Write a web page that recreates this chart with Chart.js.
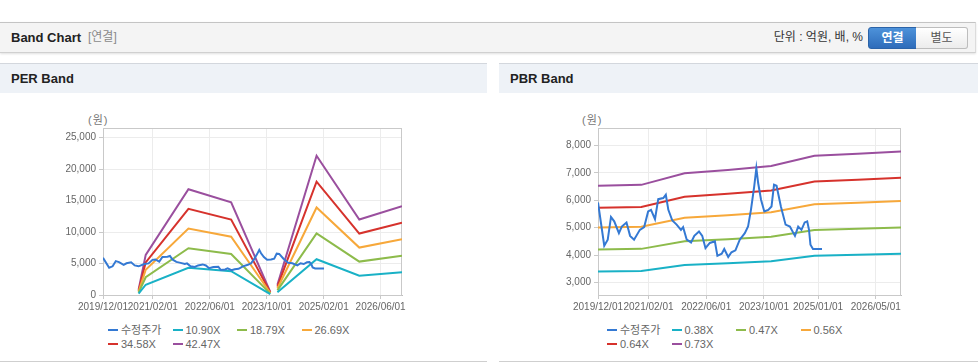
<!DOCTYPE html>
<html><head><meta charset="utf-8">
<script src="https://cdn.jsdelivr.net/npm/chart.js@4/dist/chart.umd.min.js"></script>
<style>
html,body{margin:0;padding:0;background:#fff;width:978px;height:364px;overflow:hidden;position:relative;font-family:"Liberation Sans",Arial,"Noto Sans CJK KR",sans-serif;}
.abs{position:absolute;}
#hdr{left:0;top:22px;width:975px;height:29px;background:#f4f4f4;border-top:1px solid #c4c4c4;border-bottom:1px solid #d0d0d0;border-right:1px solid #dcdcdc;box-shadow:0 1px 2px rgba(0,0,0,0.12);}
.ttl{font-weight:bold;font-size:13px;color:#222;}
.ph{top:63px;height:29px;background:#eef2f7;border-top:1px solid #d3d7dd;}
.bl{top:361px;height:1px;background:#cfcfcf;}
.unit{font-size:11px;color:#777;letter-spacing:1px;}
.lg{font-family:"Liberation Sans","Noto Sans CJK KR",sans-serif;font-size:11px;color:#666;white-space:nowrap;line-height:14px;}
.lg i{display:inline-block;width:10px;height:2px;vertical-align:middle;margin-right:3px;position:relative;top:-1px;}
</style></head>
<body>
<div id="hdr" class="abs"></div>
<div class="abs ttl" style="left:11px;top:23px;line-height:29px;">Band Chart</div>
<div class="abs" style="left:88px;top:23px;line-height:29px;font-size:12px;color:#8a8a8a;">[연결]</div>
<div class="abs" style="left:760px;width:103px;text-align:right;top:23px;line-height:29px;font-size:12px;color:#333;">단위 : 억원, 배, %</div>
<div class="abs" style="left:868px;top:27px;width:47px;height:20px;line-height:20px;text-align:center;font-size:12px;font-weight:bold;color:#fff;background:linear-gradient(#4d92da,#2e6cba);border:1px solid #2b63a8;border-radius:3px 0 0 3px;">연결</div>
<div class="abs" style="left:916px;top:27px;width:51px;height:20px;line-height:20px;text-align:center;font-size:12px;color:#555;background:linear-gradient(#ffffff,#ececec);border:1px solid #bdbdbd;border-left:none;border-radius:0 3px 3px 0;">별도</div>

<div class="abs ph" style="left:0;width:487px;"></div>
<div class="abs ph" style="left:499px;width:479px;"></div>
<div class="abs ttl" style="left:11px;top:64px;line-height:29px;">PER Band</div>
<div class="abs ttl" style="left:510px;top:64px;line-height:29px;">PBR Band</div>
<div class="abs bl" style="left:0;width:487px;"></div>
<div class="abs bl" style="left:499px;width:479px;"></div>

<div class="abs unit" style="left:88px;top:111px;">(원)</div>
<div class="abs unit" style="left:582px;top:111px;">(원)</div>

<canvas id="per" class="abs" width="390" height="220" style="left:30px;top:100px;"></canvas>
<canvas id="pbr" class="abs" width="390" height="220" style="left:525px;top:100px;"></canvas>
<div id="perLeg" class="abs" style="left:0;top:0;"></div>
<div id="pbrLeg" class="abs" style="left:0;top:0;"></div>

<script>
// ---------- data ----------
const priceDates = ['2019/12/01','2020/01/23','2020/02/22','2020/03/19','2020/04/16','2020/05/25','2020/06/19','2020/07/28','2020/08/28','2020/10/01','2020/11/19','2020/12/25','2021/01/28','2021/02/22','2021/03/25','2021/04/22','2021/06/04','2021/06/25','2021/07/16','2021/08/19','2021/09/25','2021/11/01','2021/11/19','2021/12/19','2022/01/25','2022/02/22','2022/04/01','2022/04/28','2022/05/25','2022/07/01','2022/08/13','2022/09/04','2022/10/10','2022/11/01','2022/12/04','2023/01/01','2023/02/04','2023/03/10','2023/04/22','2023/05/19','2023/06/13','2023/07/10','2023/07/28','2023/08/13','2023/09/07','2023/10/04','2023/11/07','2023/12/04','2023/12/25','2024/01/16','2024/02/22','2024/04/01','2024/05/07','2024/06/19','2024/07/16','2024/08/13','2024/09/10','2024/10/01','2024/10/16','2024/10/28','2024/11/19','2025/02/04'];
const priceValues = [5920,4340,4560,5390,5230,4800,5040,5190,4700,4560,4920,5020,5590,5650,5310,6040,6080,6200,5650,5260,5110,4920,5020,4560,4460,4700,4860,4700,4250,4440,4500,3970,4050,4220,3930,4100,4170,4560,4800,5040,5650,6500,7170,6630,6020,5590,5650,5770,6570,6530,5770,5110,5040,4700,5040,4920,5190,5230,4920,4380,4220,4220];

const perBandDates = ['2020/10/01','2020/12/01','2021/12/01','2022/12/01','2023/11/01','2023/12/01','2024/01/01','2024/12/01','2025/12/01','2026/12/01'];
const per1090 = [218,1635,4316,3782,131,null,421,5679,3079,3619];
const per1879 = [376,2819,7441,6520,225,null,725,9790,5308,6238];
const per2669 = [534,4004,10569,9261,320,null,1030,13905,7540,8861];
const per3458 = [692,5187,13694,11999,415,null,1335,18016,9769,11481];
const per4247 = [849,6371,16818,14737,510,null,1639,22127,11998,14100];
const perLabels = ['수정주가','10.90X','18.79X','26.69X','34.58X','42.47X'];

const pbrBandDates = ['2019/12/01','2020/12/01','2021/12/01','2022/12/01','2023/12/01','2024/12/01','2025/12/01','2026/12/01'];
const pbr038 = [3399,3416,3639,3701,3773,3971,4009,4051];
const pbr047 = [4204,4225,4500,4578,4667,4912,4959,5010];
const pbr056 = [5009,5034,5362,5454,5560,5852,5908,5970];
const pbr064 = [5725,5754,6128,6234,6355,6688,6752,6822];
const pbr073 = [6530,6563,6990,7110,7250,7629,7702,7782];
const pbrLabels = ['수정주가','0.38X','0.47X','0.56X','0.64X','0.73X'];

const perXTicks = ['2019/12/01','2021/02/01','2022/06/01','2023/10/01','2025/02/01','2026/06/01'];
const pbrXTicks = ['2019/12/01','2021/02/01','2022/06/01','2023/10/01','2025/01/01','2026/05/01'];
const perYTicks = [0,5000,10000,15000,20000,25000];
const pbrYTicks = [3000,4000,5000,6000,7000,8000];
const axisStart = '2019/12/01', axisEnd = '2026/12/01';

const seriesColors = ['#3479d3','#19b1c6','#8dbb4b','#f7a83a','#d6322c','#9a4f9e'];

// ---------- helpers ----------
function mi(s){const p=s.split('/').map(Number);return (p[0]-2019)*12+(p[1]-12)+(p[2]-1)/30;}
function pts(dates,vals){return dates.map((d,i)=>({x:mi(d),y:vals[i]}));}
function ds(label,dates,vals,color){return {label,data:pts(dates,vals),borderColor:color,backgroundColor:color,borderWidth:2,pointRadius:0,pointHoverRadius:0,tension:0,fill:false,spanGaps:false};}

const frame={id:'frame',beforeDatasetsDraw(c){const a=c.chartArea,x=c.ctx;x.save();x.strokeStyle='#c9c9c9';x.lineWidth=1;x.strokeRect(Math.round(a.left)+0.5,Math.round(a.top)+0.5,Math.round(a.right-a.left)-1,Math.round(a.bottom-a.top));x.restore();}};

const tickFont={family:"'Liberation Sans',Arial,sans-serif",size:10};

function makeChart(id,datasets,xTicks,yTicks,yMin,yMax,padRight){
  const xVals=xTicks.map(mi);
  return new Chart(document.getElementById(id),{
    type:'line',
    data:{datasets},
    options:{
      responsive:false,animation:false,devicePixelRatio:1,
      layout:{padding:{left:0,top:28,right:padRight,bottom:0}},
      plugins:{legend:{display:false},tooltip:{enabled:false}},
      scales:{
        x:{type:'linear',min:mi(axisStart),max:mi(axisEnd),
          afterBuildTicks(s){s.ticks=xVals.map(v=>({value:v}));},
          afterFit(s){s.height=25;},
          grid:{color:'#ececec',tickLength:4,tickColor:'#c9c9c9'},
          border:{color:'#bdbdbd'},
          ticks:{autoSkip:false,maxRotation:0,color:'#666',font:tickFont,padding:2,
            callback(v){const i=xVals.findIndex(t=>Math.abs(t-v)<1e-6);return i>=0?xTicks[i]:'';}}},
        y:{min:yMin,max:yMax,
          afterBuildTicks(s){s.ticks=yTicks.map(v=>({value:v}));},
          afterFit(s){s.width=73;},
          grid:{color:'#ececec',tickLength:4,tickColor:'#c9c9c9'},
          border:{color:'#bdbdbd'},
          ticks:{color:'#666',font:tickFont,padding:3,callback(v){return v.toLocaleString('en-US');}}}
      }
    },
    plugins:[frame]
  });
}

makeChart('per',[
  ds(perLabels[0],priceDates,priceValues,seriesColors[0]),
  ds(perLabels[1],perBandDates,per1090,seriesColors[1]),
  ds(perLabels[2],perBandDates,per1879,seriesColors[2]),
  ds(perLabels[3],perBandDates,per2669,seriesColors[3]),
  ds(perLabels[4],perBandDates,per3458,seriesColors[4]),
  ds(perLabels[5],perBandDates,per4247,seriesColors[5])
],perXTicks,perYTicks,0,26540,18);

makeChart('pbr',[
  ds(pbrLabels[0],priceDates,priceValues,seriesColors[0]),
  ds(pbrLabels[1],pbrBandDates,pbr038,seriesColors[1]),
  ds(pbrLabels[2],pbrBandDates,pbr047,seriesColors[2]),
  ds(pbrLabels[3],pbrBandDates,pbr056,seriesColors[3]),
  ds(pbrLabels[4],pbrBandDates,pbr064,seriesColors[4]),
  ds(pbrLabels[5],pbrBandDates,pbr073,seriesColors[5])
],pbrXTicks,pbrYTicks,2540,8640,14);

function legend(id,labels,x0){
  const el=document.getElementById(id);
  labels.forEach((l,i)=>{
    const d=document.createElement('div');
    d.className='abs lg';
    d.style.left=(x0+(i%4)*64.5)+'px';
    d.style.top=(323+Math.floor(i/4)*13.5)+'px';
    d.innerHTML='<i style="background:'+seriesColors[i]+'"></i>'+l;
    el.appendChild(d);
  });
}
legend('perLeg',perLabels,108);
legend('pbrLeg',pbrLabels,607);
</script>
</body></html>
